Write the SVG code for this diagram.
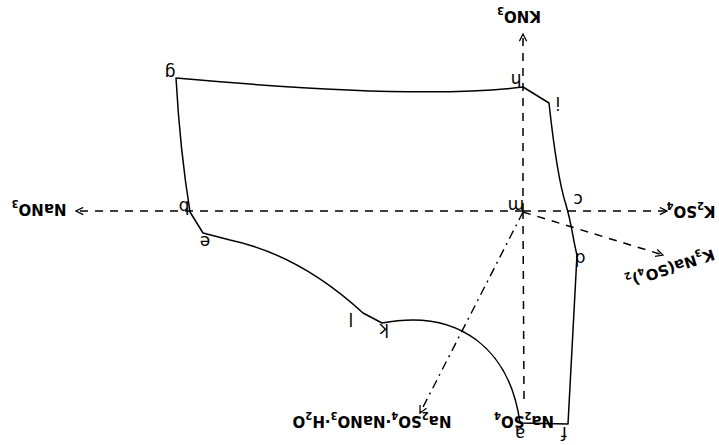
<svg xmlns="http://www.w3.org/2000/svg" width="719" height="445" viewBox="0 0 719 445">
<style>
.bd{fill:none;stroke:#000;stroke-width:1.5;stroke-linejoin:round}
.ax{fill:none;stroke:#000;stroke-width:1.5;stroke-dasharray:8 7}
.dd{fill:none;stroke:#000;stroke-width:1.4;stroke-dasharray:9 5 2 5}
.lbl{font-family:"DejaVu Sans",sans-serif;font-weight:bold;font-size:15px;fill:#000}
.sub{font-size:10px}
.pt{font-family:"DejaVu Sans",sans-serif;font-size:17px;fill:#000}
</style>
<defs>
<marker id="arr" viewBox="0 0 10 10" refX="9" refY="5" markerWidth="9" markerHeight="9" orient="auto" markerUnits="userSpaceOnUse">
<path d="M1,1 L9,5 L1,9" fill="none" stroke="#000" stroke-width="1.4"/>
</marker>
</defs>
<rect width="719" height="445" fill="#fff"/>
<g id="boundary">
<path class="bd" d="M176,78 Q420,100 523,87 L549,103 C553,140 558,180 566,205 C572,225 573,240 577,255 L568,424 L520,423 C510,350 460,308 382,323 L363,313 Q300,255 230,240 L203,233 L190,212 Q180,150 176,78 Z"/>
</g>
<g id="connectors">
<line class="ax" x1="523" y1="211" x2="523" y2="34" marker-end="url(#arr)"/>
<line class="ax" x1="523" y1="211" x2="524" y2="400"/>
<line class="ax" x1="523" y1="211" x2="76" y2="211" marker-end="url(#arr)"/>
<line class="ax" x1="523" y1="211" x2="667" y2="211" marker-end="url(#arr)"/>
<line class="ax" x1="523" y1="212" x2="663" y2="255" marker-end="url(#arr)"/>
<line class="dd" x1="523" y1="212" x2="420" y2="413" marker-end="url(#arr)"/>
</g>
<g id="node-KNO3"><text class="lbl" transform="translate(519,16) rotate(180)" text-anchor="middle" y="5" font-size="17">KNO<tspan class="sub" dy="4">3</tspan></text></g>
<g id="node-NaNO3"><text class="lbl" transform="translate(39,209) rotate(180)" text-anchor="middle" y="5" font-size="19">NaNO<tspan class="sub" dy="4">3</tspan></text></g>
<g id="node-K2SO4"><text class="lbl" transform="translate(691,211) rotate(180)" text-anchor="middle" y="5">K<tspan class="sub" dy="4">2</tspan><tspan dy="-4">SO</tspan><tspan class="sub" dy="4">4</tspan></text></g>
<g id="node-K3NaSO42"><text class="lbl" transform="translate(670,268) rotate(162)" text-anchor="middle" y="5">K<tspan class="sub" dy="4">3</tspan><tspan dy="-4">Na(SO</tspan><tspan class="sub" dy="4">4</tspan><tspan dy="-4">)</tspan><tspan class="sub" dy="4">2</tspan></text></g>
<g id="node-Na2SO4"><text class="lbl" transform="translate(524,421) rotate(180)" text-anchor="middle" y="5">Na<tspan class="sub" dy="4">2</tspan><tspan dy="-4">SO</tspan><tspan class="sub" dy="4">4</tspan></text></g>
<g id="node-double-salt"><text class="lbl" transform="translate(372,421) rotate(180)" text-anchor="middle" y="5">Na<tspan class="sub" dy="4">2</tspan><tspan dy="-4">SO</tspan><tspan class="sub" dy="4">4</tspan><tspan dy="-4">·NaNO</tspan><tspan class="sub" dy="4">3</tspan><tspan dy="-4">·H</tspan><tspan class="sub" dy="4">2</tspan><tspan dy="-4">O</tspan></text></g>
<g id="pt-g"><text class="pt" transform="translate(170,72) rotate(180)" text-anchor="middle" y="5">g</text></g>
<g id="pt-h"><text class="pt" transform="translate(516,79) rotate(180)" text-anchor="middle" y="5">h</text></g>
<g id="pt-i"><text class="pt" transform="translate(558,102) rotate(180)" text-anchor="middle" y="5">i</text></g>
<g id="pt-c"><text class="pt" transform="translate(578,199) rotate(180)" text-anchor="middle" y="5">c</text></g>
<g id="pt-m"><text class="pt" transform="translate(516,205) rotate(180)" text-anchor="middle" y="5">m</text></g>
<g id="pt-b"><text class="pt" transform="translate(184,206) rotate(180)" text-anchor="middle" y="5">b</text></g>
<g id="pt-e"><text class="pt" transform="translate(205,241) rotate(180)" text-anchor="middle" y="5">e</text></g>
<g id="pt-d"><text class="pt" transform="translate(580,258) rotate(180)" text-anchor="middle" y="5">d</text></g>
<g id="pt-f"><text class="pt" transform="translate(564,432) rotate(180)" text-anchor="middle" y="5">f</text></g>
<g id="pt-a"><text class="pt" transform="translate(520,433) rotate(180)" text-anchor="middle" y="5">a</text></g>
<g id="pt-k"><text class="pt" transform="translate(384,329) rotate(180)" text-anchor="middle" y="5">k</text></g>
<g id="pt-l"><text class="pt" transform="translate(351,318) rotate(180)" text-anchor="middle" y="5">l</text></g>
</svg>
